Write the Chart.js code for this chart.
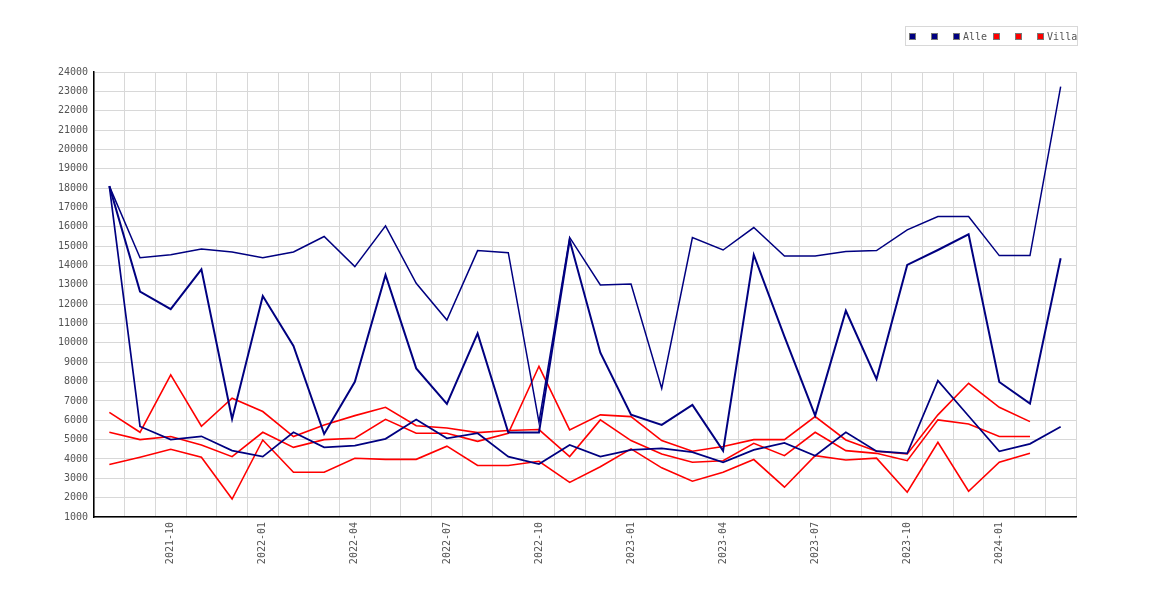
<!DOCTYPE html>
<html>
<head>
<meta charset="utf-8">
<title>Alle / Villa</title>
<script src="https://cdn.jsdelivr.net/npm/chart.js@4/dist/chart.umd.min.js"></script>
<style>
  html, body { margin: 0; padding: 0; background: #fff; }
  #wrap { position: relative; width: 1170px; height: 600px; }
  #legend {
    position: absolute; left: 905px; top: 26px; height: 18px;
    border: 1px solid #d8d8d8; padding: 0 0 0 3px;
    display: flex; align-items: center;
    font: 10px "DejaVu Sans Mono", monospace; color: #555; white-space: pre;
  }
  #legend .item { display: flex; align-items: center; }
  #legend .box { width: 5px; height: 5px; border: 1px solid #777; margin-right: 3px; }
</style>
</head>
<body>
<div id="wrap">
  <canvas id="chart" width="1170" height="600"></canvas>
  <div id="legend"></div>
</div>
<script>
/* ------------------------------------------------------------
   Données
------------------------------------------------------------ */
const months = [
  "2021-08", "2021-09", "2021-10", "2021-11", "2021-12",
  "2022-01", "2022-02", "2022-03", "2022-04", "2022-05", "2022-06",
  "2022-07", "2022-08", "2022-09", "2022-10", "2022-11", "2022-12",
  "2023-01", "2023-02", "2023-03", "2023-04", "2023-05", "2023-06",
  "2023-07", "2023-08", "2023-09", "2023-10", "2023-11", "2023-12",
  "2024-01", "2024-02", "2024-03"
];

// mois affichés sous l'axe x
const xTickLabels = [
  "2021-10", "2022-01", "2022-04", "2022-07", "2022-10",
  "2023-01", "2023-04", "2023-07", "2023-10", "2024-01"
];

// graduations de l'axe y
const yMin = 1000;
const yMax = 24000;
const yStep = 1000;

const seriesNames = ["", "", "Alle", "", "", "Villa"];

const alle1 = [18100, 14400, 14550, 14850, 14700, 14400, 14700, 15500, 13940, 16050, 13080,
  11180, 14770, 14660, 5900, 15450, 12990, 13040, 7650, 15440, 14800, 15960, 14490,
  14490, 14720, 14770, 15840, 16530, 16530, 14510, 14510, 23250];

const alle2 = [18100, 12650, 11740, 13800, 6070, 12420, 9840, 5290, 7990, 13510, 8680,
  6850, 10490, 5370, 5370, 15300, 9490, 6290, 5760, 6790, 4420, 14550, 10320,
  6240, 11660, 8130, 14030, 14800, 15610, 7980, 6860, 14370];

const alle3 = [18100, 5680, 5000, 5170, 4430, 4120, 5380, 4600, 4690, 5040, 6040,
  5070, 5330, 4120, 3740, 4720, 4120, 4470, 4550, 4350, 3830, 4470, 4830,
  4170, 5380, 4400, 4290, 8050, 6220, 4400, 4780, 5670];

const villa1 = [6410, 5380, 8350, 5690, 7140, 6450, 5160, 5760, 6240, 6670, 5720,
  5600, 5360, 5470, 5520, 4120, 6020, 4950, 4260, 3830, 3910, 4810, 4170,
  5380, 4430, 4290, 3910, 6020, 5810, 5160, 5160, null];

const villa2 = [5380, 5000, 5160, 4720, 4120, 5380, 4600, 5000, 5070, 6050, 5330,
  5330, 4910, 5330, 8790, 5500, 6280, 6190, 4950, 4400, 4640, 5000, 5000,
  6190, 4980, 4400, 4260, 6280, 7910, 6670, 5930, null];

const villa3 = [3710, 4090, 4500, 4090, 1930, 4980, 3310, 3310, 4040, 3980, 3980,
  4660, 3660, 3660, 3880, 2790, 3600, 4520, 3540, 2850, 3310, 3970, 2540,
  4170, 3950, 4040, 2280, 4860, 2330, 3830, 4290, null];

/* ------------------------------------------------------------
   Séries
------------------------------------------------------------ */
const BLUE = "#000080";
const RED = "#ff0000";

function makeSet(label, data, color, width) {
  return {
    label: label,
    data: data,
    borderColor: color,
    backgroundColor: color,
    borderWidth: width,
    pointRadius: 0,
    pointHoverRadius: 0,
    tension: 0,
    fill: false,
    spanGaps: false
  };
}

const datasets = [
  makeSet(seriesNames[0], alle1, BLUE, 1.5),
  makeSet(seriesNames[1], alle2, BLUE, 2),
  makeSet(seriesNames[2], alle3, BLUE, 1.7),
  makeSet(seriesNames[3], villa1, RED, 1.6),
  makeSet(seriesNames[4], villa2, RED, 1.6),
  makeSet(seriesNames[5], villa3, RED, 1.6)
];

/* ------------------------------------------------------------
   Légende (HTML, construite à partir des séries)
------------------------------------------------------------ */
function buildLegend() {
  const legend = document.getElementById("legend");
  datasets.forEach(ds => {
    const item = document.createElement("div");
    item.className = "item";
    item.style.marginRight = ds.label ? "6px" : "12px";
    const box = document.createElement("span");
    box.className = "box";
    box.style.background = ds.borderColor;
    item.appendChild(box);
    if (ds.label) {
      const txt = document.createElement("span");
      txt.textContent = ds.label;
      item.appendChild(txt);
    }
    legend.appendChild(item);
  });
  legend.lastChild.style.marginRight = "0px";
}

/* ------------------------------------------------------------
   Graphique
------------------------------------------------------------ */
const tickFont = { family: "'DejaVu Sans Mono', monospace", size: 10 };

new Chart(document.getElementById("chart"), {
  type: "line",
  data: { labels: months, datasets: datasets },
  options: {
    responsive: false,
    animation: false,
    layout: { padding: { top: 72, right: 94, bottom: 0, left: 0 } },
    plugins: {
      legend: { display: false },
      tooltip: { enabled: false }
    },
    scales: {
      x: {
        type: "category",
        offset: true,
        grid: { offset: true, color: "#d8d8d8", lineWidth: 1, drawTicks: false },
        border: { color: "#000", width: 1.5 },
        ticks: {
          autoSkip: false,
          minRotation: 90,
          maxRotation: 90,
          padding: 5,
          color: "#555",
          font: tickFont,
          callback: function (value) {
            const lab = this.getLabelForValue(value);
            return xTickLabels.includes(lab) ? lab : "";
          }
        },
        afterFit: scale => { scale.height = 83; }
      },
      y: {
        min: yMin,
        max: yMax,
        grid: { color: "#d8d8d8", lineWidth: 1, drawTicks: false },
        border: { color: "#000", width: 1.5 },
        ticks: {
          stepSize: yStep,
          padding: 6,
          color: "#555",
          font: tickFont,
          callback: v => String(v)
        },
        afterFit: scale => { scale.width = 94; }
      }
    }
  }
});

buildLegend();
</script>
</body>
</html>
